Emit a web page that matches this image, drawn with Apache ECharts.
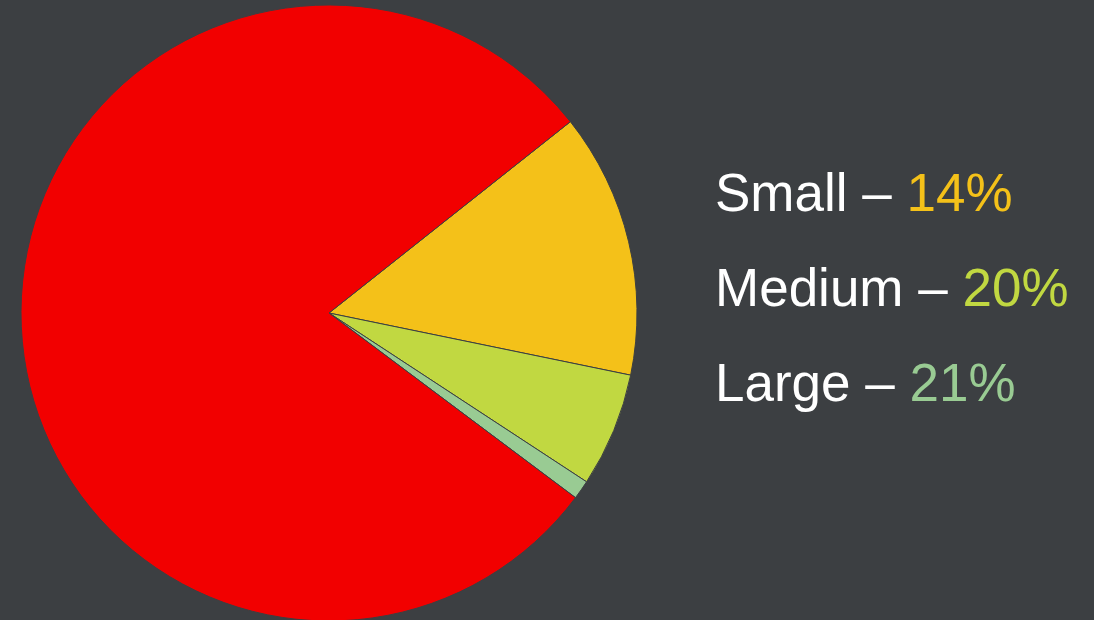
<!DOCTYPE html>
<html>
<head>
<meta charset="utf-8">
<script src="https://cdn.jsdelivr.net/npm/echarts@6/dist/echarts.min.js"></script>
<style>
  html, body { margin: 0; padding: 0; background: #3c3f42; }
  #chart { width: 1094px; height: 620px; }
</style>
</head>
<body>
<div id="chart"></div>
<script>
// slice data, clockwise from the top-right edge of the yellow slice
const sliceNames = ["Small", "Medium", "Large", "Other"];
const sliceValues = [13.9, 6.0, 1.0, 79.1];
const sliceColors = ["#f4c119", "#c1d841", "#99cb93", "#f20000"];

// text block on the right
const labelNames = ["Small", "Medium", "Large"];
const labelPcts = ["14%", "20%", "21%"];

const chart = echarts.init(document.getElementById("chart"));

const font = { fontSize: 53, fontFamily: "Liberation Sans" };
const textItems = labelNames.map((name, i) => ({
  type: "text",
  left: 715,
  top: 170 + i * 95,
  style: {
    text: "{w|" + name + " – }{c" + i + "|" + labelPcts[i] + "}",
    rich: {
      w: Object.assign({ fill: "#ffffff" }, font),
      c0: Object.assign({ fill: sliceColors[0] }, font),
      c1: Object.assign({ fill: sliceColors[1] }, font),
      c2: Object.assign({ fill: sliceColors[2] }, font)
    }
  }
}));

chart.setOption({
  backgroundColor: "#3c3f42",
  animation: false,
  series: [
    {
      type: "pie",
      center: [329, 313],
      radius: [0, 308],
      startAngle: 38.4,
      clockwise: true,
      label: { show: false },
      labelLine: { show: false },
      itemStyle: { borderColor: "#3c3f42", borderWidth: 1 },
      emphasis: { disabled: true },
      data: sliceNames.map((n, i) => ({
        name: n,
        value: sliceValues[i],
        itemStyle: { color: sliceColors[i] }
      }))
    }
  ],
  graphic: textItems
});
</script>
</body>
</html>
